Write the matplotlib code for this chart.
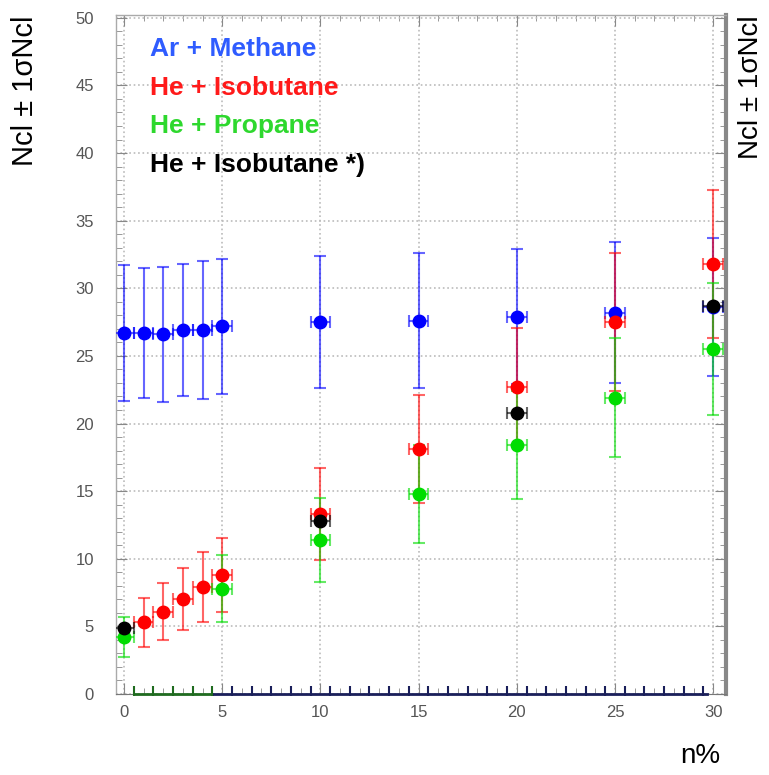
import numpy as np
import matplotlib
matplotlib.use("Agg")
import matplotlib.pyplot as plt
from matplotlib.colors import to_rgba
from matplotlib.ticker import MultipleLocator

plt.rcParams["font.family"] = ["Liberation Sans", "DejaVu Sans"]

# Ar + Methane
ar_x = [0, 1, 2, 3, 4, 5, 10, 15, 20, 25, 30]
ar_y = [26.7, 26.7, 26.6, 26.9, 26.9, 27.2, 27.5, 27.6, 27.9, 28.2, 28.6]
ar_err = [5.0, 4.8, 5.0, 4.9, 5.1, 5.0, 4.9, 5.0, 5.0, 5.2, 5.1]

# He + Isobutane
hi_x = [1, 2, 3, 4, 5, 10, 15, 20, 25, 30]
hi_y = [5.3, 6.1, 7.0, 7.9, 8.8, 13.3, 18.1, 22.7, 27.5, 31.8]
hi_err = [1.8, 2.1, 2.3, 2.6, 2.7, 3.4, 4.0, 4.4, 5.1, 5.5]

# He + Propane
hp_x = [0, 5, 10, 15, 20, 25, 30]
hp_y = [4.2, 7.8, 11.4, 14.8, 18.4, 21.9, 25.5]
hp_err = [1.5, 2.5, 3.1, 3.6, 4.0, 4.4, 4.9]

# He + Isobutane *)
hs_x = [0, 10, 20, 30]
hs_y = [4.9, 12.8, 20.8, 28.7]
hs_err = [0.0, 0.0, 0.0, 0.0]

x_half = 0.5
labels = ["Ar + Methane", "He + Isobutane", "He + Propane", "He + Isobutane *)"]
label_colors = ["#2f5cff", "#ff1a1a", "#2ed82e", "#000000"]

fig = plt.figure(figsize=(7.69, 7.75), dpi=100)
ax = fig.add_axes([0.151, 0.1045, 0.793, 0.876])

series = [
    (ar_x, ar_y, ar_err, "#0000ff"),
    (hi_x, hi_y, hi_err, "#ff0000"),
    (hp_x, hp_y, hp_err, "#00dd00"),
    (hs_x, hs_y, hs_err, "#000000"),
]
for xs, ys, es, c in series:
    ax.errorbar(xs, ys, yerr=es, xerr=x_half, fmt="o", color=c, ms=9,
                ecolor=to_rgba(c, 0.6), elinewidth=1.5, capsize=4,
                capthick=1.5, zorder=3)

# empty-bin baselines along y = 0
base_green = np.arange(0.5, 5.0, 1.0)
base_navy = np.arange(5.5, 30.0, 1.0)
ax.plot([0.5, 4.5], [0, 0], color="#1f6b1f", lw=2, zorder=4, clip_on=False)
ax.plot([4.5, 29.7], [0, 0], color="#1a1f5a", lw=2, zorder=4, clip_on=False)
ax.plot(base_green, np.full_like(base_green, 0.25), "|", color="#1f6b1f",
        ms=7, mew=1.5, zorder=4, clip_on=False)
ax.plot(base_navy, np.full_like(base_navy, 0.25), "|", color="#1a1f5a",
        ms=7, mew=1.5, zorder=4, clip_on=False)

ax.set_xlim(-0.4, 30.65)
ax.set_ylim(0, 50.2)
ax.xaxis.set_major_locator(MultipleLocator(5))
ax.xaxis.set_minor_locator(MultipleLocator(1))
ax.yaxis.set_major_locator(MultipleLocator(5))
ax.yaxis.set_minor_locator(MultipleLocator(1))
ax.tick_params(which="both", direction="in", top=True, right=True,
               colors="#888888", labelcolor="#555555", labelsize=12)
ax.tick_params(which="major", length=8)
ax.tick_params(which="minor", length=4)
ax.tick_params(axis="y", pad=16)
ax.tick_params(axis="x", pad=8)
ax.grid(True, which="major", linestyle=":", color="#bbbbbb", lw=1.2)

for s in ["left", "top"]:
    ax.spines[s].set_color("#aaaaaa")
    ax.spines[s].set_linewidth(1)
ax.spines["right"].set_color("#888888")
ax.spines["right"].set_linewidth(3)
ax.spines["bottom"].set_color("#777777")

for i, (t, c) in enumerate(zip(labels, label_colors)):
    ax.text(0.055, 0.95 - i * 0.0567, t, transform=ax.transAxes, color=c,
            fontsize=19, fontweight="bold", va="center", ha="left")

fig.text(0.033, 0.98, "Ncl \u00b1 1\u03c3Ncl", rotation=90, fontsize=21,
         ha="center", va="top")
fig.text(0.976, 0.98, "Ncl \u00b1 1\u03c3Ncl", rotation=90, fontsize=20,
         ha="center", va="top")
fig.text(0.91, 0.025, "n%", fontsize=20, ha="center", va="center")

fig.savefig("out.png", dpi=100)
